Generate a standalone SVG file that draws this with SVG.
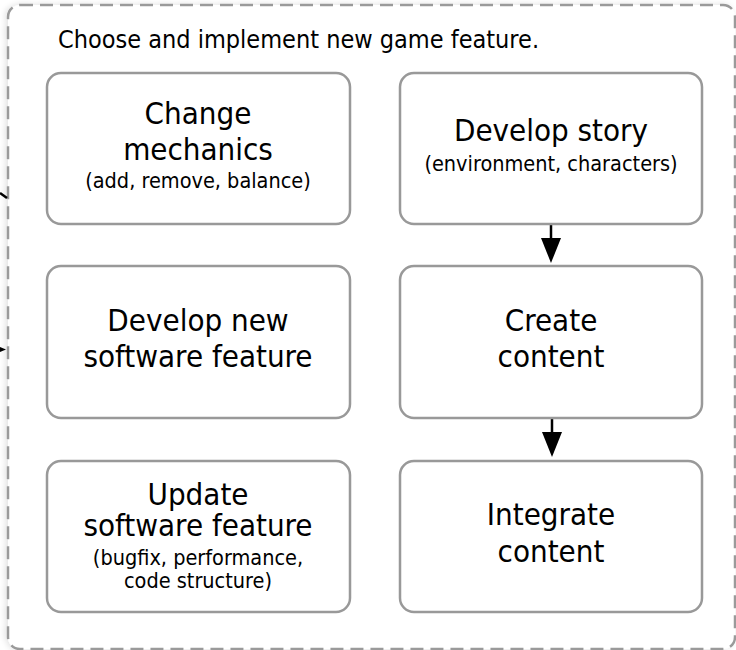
<svg xmlns="http://www.w3.org/2000/svg" width="736" height="650" viewBox="0 0 736 650">
<defs>
<style>
.box{fill:#fff;stroke:#999;stroke-width:2.5}
.cont{fill:#fff;stroke:#9a9a9a;stroke-width:2.5;stroke-dasharray:13 7}
text{font-family:"DejaVu Sans Condensed","DejaVu Sans",sans-serif;font-stretch:condensed;fill:#000;text-anchor:middle}
.big{font-size:31px}
.small{font-size:21.5px}
.title{font-size:25px;text-anchor:start}
.edge{stroke:#000;stroke-width:2.5;fill:none}
</style>
<filter id="sh" x="-5%" y="-5%" width="110%" height="110%">
<feGaussianBlur in="SourceAlpha" stdDeviation="3"/>
<feOffset dx="-2" dy="0"/>
<feComponentTransfer><feFuncA type="linear" slope="0.12"/></feComponentTransfer>
<feMerge><feMergeNode/><feMergeNode in="SourceGraphic"/></feMerge>
</filter>
</defs>
<g id="container">
<rect class="cont" x="8" y="5" width="727" height="644" rx="12" filter="url(#sh)"/>
<text class="title" x="58" y="48">Choose and implement new game feature.</text>
</g>
<g id="connectors">
<line class="edge" x1="0" y1="193" x2="7" y2="198"/>
<path d="M0,347 L6,349.5 L0,352 Z" fill="#000"/>
<line class="edge" x1="551" y1="224" x2="551" y2="240"/>
<path d="M541,238 L561,238 L551,263 Z" fill="#000"/>
<line class="edge" x1="552" y1="418" x2="552" y2="434"/>
<path d="M542,432 L562,432 L552,457 Z" fill="#000"/>
</g>
<g id="change-mechanics">
<rect class="box" x="47" y="73" width="303" height="151" rx="14"/>
<text class="big" x="198" y="124">Change</text>
<text class="big" x="198" y="160">mechanics</text>
<text class="small" x="198" y="188">(add, remove, balance)</text>
</g>
<g id="develop-story">
<rect class="box" x="400" y="73" width="302" height="151" rx="14"/>
<text class="big" x="551" y="141">Develop story</text>
<text class="small" x="551" y="171">(environment, characters)</text>
</g>
<g id="develop-software">
<rect class="box" x="47" y="266" width="303" height="152" rx="14"/>
<text class="big" x="198" y="331">Develop new</text>
<text class="big" x="198" y="367">software feature</text>
</g>
<g id="create-content">
<rect class="box" x="400" y="266" width="302" height="152" rx="14"/>
<text class="big" x="551" y="331">Create</text>
<text class="big" x="551" y="367">content</text>
</g>
<g id="update-software">
<rect class="box" x="47" y="461" width="303" height="151" rx="14"/>
<text class="big" x="198" y="505">Update</text>
<text class="big" x="198" y="536">software feature</text>
<text class="small" x="198" y="565">(bugfix, performance,</text>
<text class="small" x="198" y="588">code structure)</text>
</g>
<g id="integrate-content">
<rect class="box" x="400" y="461" width="302" height="151" rx="14"/>
<text class="big" x="551" y="525">Integrate</text>
<text class="big" x="551" y="562">content</text>
</g>
</svg>
